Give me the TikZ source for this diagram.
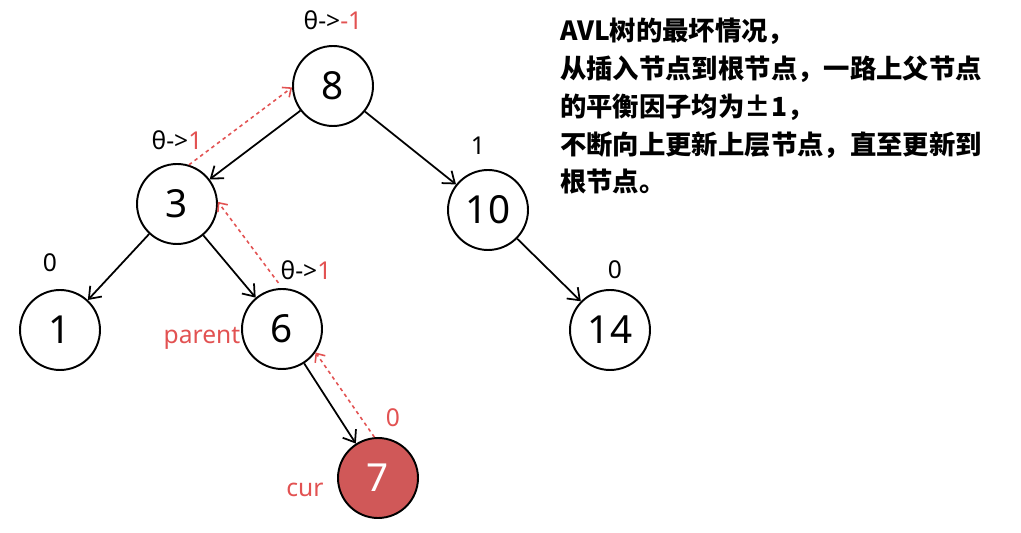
\documentclass[tikz,border=0pt]{standalone}
\usepackage{fontspec}
\setmainfont{Noto Sans}
\newfontfamily\cjk{Noto Sans CJK SC}
\usetikzlibrary{arrows.meta}
\definecolor{rojo}{RGB}{226,82,82}
\definecolor{relleno}{RGB}{208,88,88}
\begin{document}
\begin{tikzpicture}[x=0.02cm, y=-0.02cm, >={Straight Barb[length=6pt,width=9pt]},
  nodo/.style={circle, draw, line width=1.1pt, minimum size=1.6cm, inner sep=0pt, font=\fontsize{22}{24}\selectfont},
  rama/.style={->, line width=1pt},
  subir/.style={-{Straight Barb[length=4pt,width=7pt]}, rojo, dash pattern=on 2pt off 2pt, line width=0.9pt},
  fb/.style={font=\fontsize{14}{16}\selectfont}]
\useasboundingbox (0,0) rectangle (1021,533);
% Nodos
\node[nodo] (n8) at (333,86) {8};
\node[nodo] (n3) at (177,204) {3};
\node[nodo] (n10) at (488,210) {10};
\node[nodo] (n1) at (60,330) {1};
\node[nodo] (n6) at (282,329) {6};
\node[nodo] (n14) at (610,330) {14};
\node[nodo, fill=relleno, text=white] (n7) at (378,478) {7};
% Ramas
\draw[rama] (n8) -- (n3);
\draw[rama] (n8) -- (n10);
\draw[rama] (n3) -- (n1);
\draw[rama] (n3) -- (n6);
\draw[rama] (n10) -- (n14);
\draw[rama] (n6) -- (n7);
% Camino hacia la raiz
\draw[subir] (n7.95) -- (n6.-35);
\draw[subir] ([yshift=3pt]n6.95) -- (n3.3);
\draw[subir] (n3.73) -- (n8.182);
% Factores de balance
\node[fb] (e8) at (333,20) {θ->\textcolor{rojo}{-1}};
\node[fb] (e3) at (177,140) {θ->\textcolor{rojo}{1}};
\node[fb] (e10) at (478,146) {1};
\node[fb] (e1) at (50,263) {0};
\node[fb] (e6) at (306,270) {θ->\textcolor{rojo}{1}};
\node[fb] (e14) at (615,270) {0};
\node[fb, text=rojo] (e7) at (393,418) {0};
\node[fb, text=rojo] (padre) at (202,338) {parent};
\node[fb, text=rojo] (actual) at (305,490) {cur};
% Texto
\node[anchor=north west, align=left, font=\cjk\bfseries\fontsize{15}{21.5}\selectfont] (texto) at (554,12)
  {AVL树的最坏情况，\\从插入节点到根节点，一路上父节点\\的平衡因子均为±1，\\不断向上更新上层节点，直至更新到\\根节点。};
\end{tikzpicture}
\end{document}
